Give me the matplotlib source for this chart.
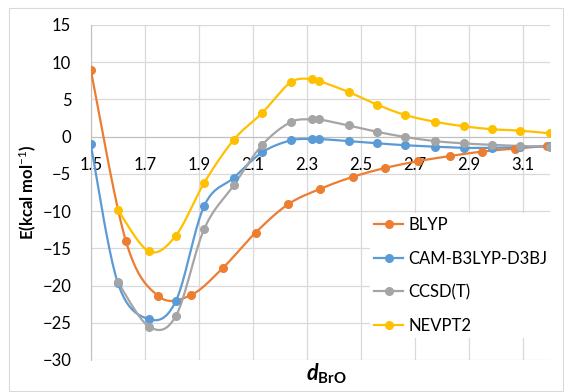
import numpy as np
import matplotlib
matplotlib.use("Agg")
import matplotlib.pyplot as plt
from matplotlib.patches import Rectangle

plt.rcParams['font.family'] = ['Lato', 'DejaVu Sans']
plt.rcParams['mathtext.fontset'] = 'custom'
plt.rcParams['mathtext.it'] = 'Lato:italic:bold'
plt.rcParams['mathtext.bf'] = 'Lato:bold'
plt.rcParams['mathtext.rm'] = 'Lato'

# BLYP is sampled on its own grid
x_blyp = [1.50, 1.63, 1.75, 1.87, 1.99, 2.11, 2.23, 2.35, 2.47, 2.59,
          2.71, 2.83, 2.95, 3.07, 3.19]
e_blyp = [9.0, -14.0, -21.4, -21.3, -17.6, -12.9, -9.1, -7.0, -5.4, -4.2,
          -3.3, -2.6, -2.0, -1.6, -1.25]

x_cam = [1.50, 1.60, 1.715, 1.815, 1.92, 2.03, 2.135, 2.24, 2.32, 2.345,
         2.455, 2.56, 2.665, 2.775, 2.88, 2.985, 3.09, 3.20]
e_cam = [-1.0, -19.6, -24.5, -22.1, -9.3, -5.5, -2.1, -0.5, -0.3, -0.3,
         -0.6, -0.9, -1.15, -1.35, -1.5, -1.5, -1.4, -1.3]

# CCSD(T) and NEVPT2 start at 1.6
x_ref = x_cam[1:]
e_ccsd = [-19.5, -25.5, -24.1, -12.4, -6.5, -1.1, 1.95, 2.33, 2.33,
          1.5, 0.65, -0.05, -0.6, -0.9, -1.1, -1.25, -1.35]
e_nevpt2 = [-9.8, -15.4, -13.3, -6.2, -0.4, 3.2, 7.3, 7.75, 7.5,
            6.0, 4.3, 2.9, 2.0, 1.4, 1.0, 0.8, 0.45]

series = [
    ("BLYP", x_blyp, e_blyp, "#ED7D31"),
    ("CAM-B3LYP-D3BJ", x_cam, e_cam, "#5B9BD5"),
    ("CCSD(T)", x_ref, e_ccsd, "#A5A5A5"),
    ("NEVPT2", x_ref, e_nevpt2, "#FFC000"),
]


def smooth(x, y, n=24):
    """Catmull-Rom style curve through the points, like Excel's smoothed lines"""
    p = np.column_stack([x, y]).astype(float)
    p = np.vstack([p[0], p, p[-1]])
    out = []
    t = np.linspace(0, 1, n)[:, None]
    for i in range(1, len(p) - 2):
        p0, p1, p2, p3 = p[i - 1], p[i], p[i + 1], p[i + 2]
        b1 = p1 + (p2 - p0) / 6
        b2 = p2 - (p3 - p1) / 6
        seg = ((1 - t) ** 3 * p1 + 3 * (1 - t) ** 2 * t * b1
               + 3 * (1 - t) * t ** 2 * b2 + t ** 3 * p2)
        out.append(seg)
    out = np.vstack(out)
    return out[:, 0], out[:, 1]


fig = plt.figure(figsize=(5.64, 3.92), dpi=100)
fig.patches.append(Rectangle((9 / 564, 0.003), 554 / 564, 1 - 8 / 392 - 0.003,
                             transform=fig.transFigure, fill=False,
                             edgecolor="#d9d9d9", linewidth=0.8))
ax = fig.add_axes([90.7 / 564, 32 / 392, 459.3 / 564, 335 / 392])

for name, x, y, c in series:
    sx, sy = smooth(x, y)
    ax.plot(sx, sy, color=c, linewidth=1.6, zorder=3)
    ax.plot(x, y, 'o', color=c, markersize=5.5, zorder=4)
    ax.plot([], [], '-o', color=c, linewidth=1.6, markersize=5.5, label=name)

ax.set_xlim(1.5, 3.2)
ax.set_ylim(-30, 15)
ax.set_xticks(np.arange(1.5, 3.15, 0.2))
ax.set_xticklabels(["%.1f" % v for v in np.arange(1.5, 3.15, 0.2)])
ax.set_yticks(np.arange(-30, 16, 5))
ax.grid(True, color="#d9d9d9", linewidth=0.9, zorder=0)
ax.set_axisbelow(True)

ax.spines['bottom'].set_position(('data', 0))
for s in ['top', 'right']:
    ax.spines[s].set_visible(False)
ax.spines['bottom'].set_color("#bfbfbf")
ax.spines['left'].set_color("#bfbfbf")
ax.tick_params(axis='x', length=0, pad=15, labelsize=12, colors="#000000")
ax.tick_params(axis='y', length=0, pad=14, labelsize=12)

fig.text(27 / 564, 1 - 192 / 392, "E(kcal mol$^{-1}$)", rotation=90,
         ha='center', va='center', fontsize=12, fontweight='bold')
fig.text(326 / 564, 1 - 374 / 392, r"$\it{d}_{\bf{BrO}}$", ha='center',
         va='center', fontsize=15.5)

ax.legend(loc='upper left', bbox_to_anchor=(370 / 564, 1 - 213 / 392),
          bbox_transform=fig.transFigure, frameon=True, facecolor='white',
          edgecolor='none', framealpha=1, fontsize=12, handlelength=1.75,
          handletextpad=0.3, labelspacing=1.05, borderpad=0.25,
          borderaxespad=0)

fig.savefig("out.png", dpi=100)
